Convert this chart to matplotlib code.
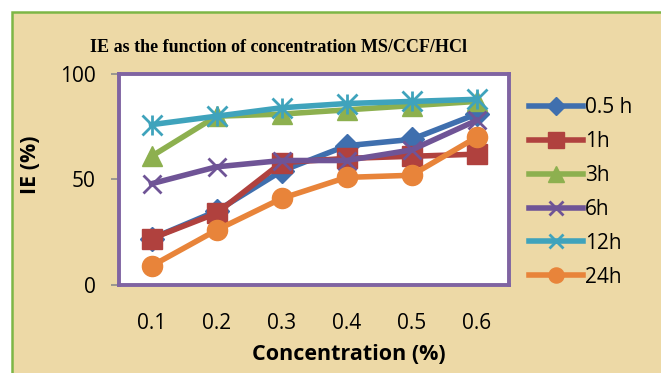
import matplotlib.pyplot as plt
from matplotlib.patches import Rectangle

# chart data
concentrations = ["0.1", "0.2", "0.3", "0.4", "0.5", "0.6"]
ie_05h = [22, 35, 54, 66, 69, 81]
ie_1h = [22, 34, 58, 60, 61, 62]
ie_3h = [61, 80, 81, 83, 85, 87]
ie_6h = [48, 56, 59, 59, 64, 78]
ie_12h = [76, 80, 84, 86, 87, 88]
ie_24h = [9, 26, 41, 51, 52, 70]
series_names = ["0.5 h", "1h", "3h", "6h", "12h", "24h"]

colors = ["#3F6FAE", "#B0413E", "#8DB04F", "#6F5496", "#3FA3BC", "#E8843A"]
markers = ["D", "s", "^", "x", "*", "o"]

fig = plt.figure(figsize=(6.61, 3.73), dpi=100, facecolor="white")

# parchment panel with green border
panel = Rectangle((12 / 661, -0.1), 1.1, 1 - 12 / 373 + 0.1, transform=fig.transFigure,
                  facecolor="#EDD9A6", edgecolor="#7DB646", linewidth=1.8, zorder=-5)
fig.patches.append(panel)

ax = fig.add_axes([119 / 661, 1 - 285 / 373, 390 / 661, 211 / 373])
ax.set_facecolor("white")
ax.set_zorder(2)

x = list(range(len(concentrations)))
all_series = [ie_05h, ie_1h, ie_3h, ie_6h, ie_12h, ie_24h]
for vals, name, c, m in zip(all_series, series_names, colors, markers):
    if m == "x":
        ax.plot(x, vals, color=c, lw=4, marker=m, ms=13, mew=2, label=name)
    elif m == "*":
        # asterisk-like marker: x plus a vertical bar
        ax.plot(x, vals, color=c, lw=4, marker="x", ms=14, mew=2, label=name)
        ax.plot(x, vals, color=c, lw=0, marker="|", ms=15, mew=2)
    elif m == "D":
        ax.plot(x, vals, color=c, lw=4, marker=m, ms=12, label=name)
    else:
        ax.plot(x, vals, color=c, lw=4, marker=m, ms=14.5, label=name)

ax.set_xlim(-0.5, 5.5)
ax.set_ylim(0, 100)
ax.set_yticks([0, 50, 100])
ax.set_xticks(x)
ax.set_xticklabels(concentrations)
for s in ax.spines.values():
    s.set_color("#8064A2")
    s.set_linewidth(2.8)
ax.tick_params(axis="x", length=0, pad=20, labelsize=15)
ax.tick_params(axis="y", length=6, color="#8C8C8C", width=1.2, pad=11, labelsize=15)
for lab in ax.get_xticklabels() + ax.get_yticklabels():
    lab.set_family("Open Sans")

fig.text(279 / 661, 1 - 47 / 373, "IE as the function of concentration MS/CCF/HCl",
         ha="center", va="center", family="Liberation Serif", weight="bold", fontsize=13)
fig.text(349 / 661, 1 - 355 / 373, "Concentration (%)", ha="center", va="center",
         family="Open Sans", weight="bold", fontsize=15.5)
fig.text(30 / 661, 1 - 165 / 373, "IE (%)", ha="center", va="center", rotation=90,
         family="Open Sans", weight="bold", fontsize=15.5)

leg = ax.legend(loc="upper left", bbox_to_anchor=(1.03, 0.93), frameon=False,
                prop={"family": "Open Sans", "size": 15}, handlelength=2.6,
                handletextpad=0.1, labelspacing=0.62, borderaxespad=0,
                markerscale=0.75)

fig.savefig("out.png", dpi=100, facecolor="white")
